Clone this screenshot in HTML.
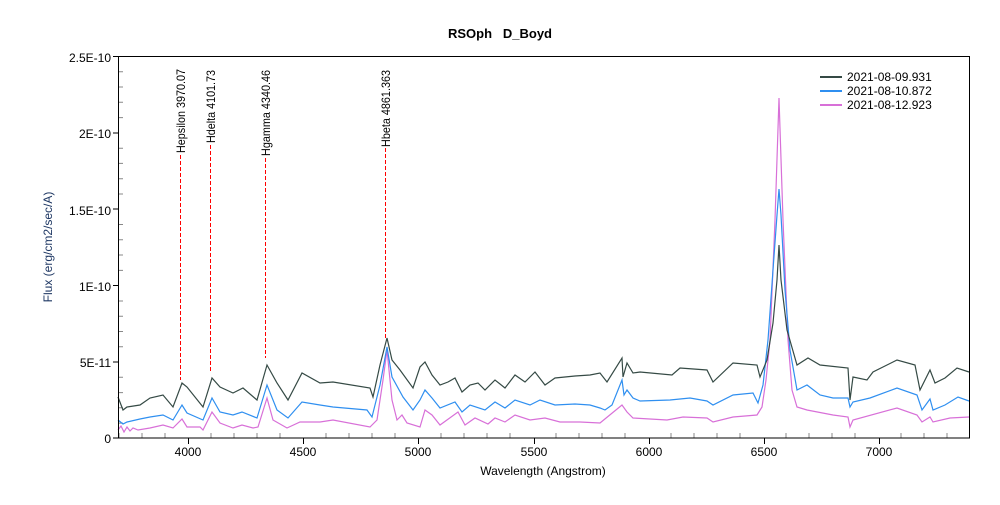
<!DOCTYPE html>
<html><head><meta charset="utf-8"><style>
body{margin:0;background:#fff}
svg text{font-family:"Liberation Sans",sans-serif}
</style></head><body>
<svg width="1000" height="500" xmlns="http://www.w3.org/2000/svg">
<rect width="1000" height="500" fill="#fff"/>
<text x="500" y="38" text-anchor="middle" font-size="13" font-weight="bold" xml:space="preserve">RSOph   D_Boyd</text>
<text x="0" y="0" transform="translate(52,247) rotate(-90)" text-anchor="middle" font-size="12" fill="#1f3864">Flux (erg/cm2/sec/A)</text>
<text x="543" y="475" text-anchor="middle" font-size="12">Wavelength (Angstrom)</text>
<g font-size="12" text-anchor="end">
<text x="111" y="62">2.5E-10</text><text x="111" y="138">2E-10</text><text x="111" y="215">1.5E-10</text>
<text x="111" y="291">1E-10</text><text x="111" y="367">5E-11</text><text x="111" y="443">0</text>
</g>
<g font-size="12" text-anchor="middle">
<text x="188" y="456">4000</text><text x="303" y="456">4500</text><text x="418" y="456">5000</text>
<text x="534" y="456">5500</text><text x="649" y="456">6000</text><text x="764" y="456">6500</text><text x="879" y="456">7000</text>
</g>
<g stroke="#000" stroke-width="1">
<path d="M113,56.5H118M113,133H118M113,209H118M113,285.5H118M113,362H118M113,438H118"/>
<path stroke="#888" d="M118,71.8H123M118,87H123M118,102.3H123M118,117.6H123M118,148.2H123M118,163.4H123M118,178.7H123M118,194H123M118,224.5H123M118,239.8H123M118,255H123M118,270.4H123M118,301H123M118,316.2H123M118,331.5H123M118,346.8H123M118,377.3H123M118,392.6H123M118,407.8H123M118,423.1H123"/>
<path d="M188.5,438V444M303.5,438V444M418.5,438V444M534.5,438V444M649.5,438V444M764.5,438V444M879.5,438V444"/>
<path stroke="#888" d="M119,438V433M142,438V433M165,438V433M211,438V433M234,438V433M257,438V433M280,438V433M326,438V433M349,438V433M372,438V433M395,438V433M441,438V433M464,438V433M487,438V433M510,438V433M556,438V433M579,438V433M602,438V433M625,438V433M671,438V433M694,438V433M717,438V433M740,438V433M786,438V433M809,438V433M832,438V433M855,438V433M901,438V433M924,438V433M947,438V433"/>
</g>
<g stroke="#f00" stroke-width="1" stroke-dasharray="4,2">
<line x1="180.5" y1="155" x2="180.5" y2="380"/>
<line x1="210.5" y1="145" x2="210.5" y2="372"/>
<line x1="265.5" y1="158" x2="265.5" y2="358"/>
<line x1="385.5" y1="148" x2="385.5" y2="340"/>
</g>
<g font-size="12">
<text transform="translate(185,153) rotate(-90)" textLength="84" lengthAdjust="spacingAndGlyphs">Hepsilon 3970.07</text>
<text transform="translate(215,143) rotate(-90)" textLength="73" lengthAdjust="spacingAndGlyphs">Hdelta 4101.73</text>
<text transform="translate(270,156) rotate(-90)" textLength="86" lengthAdjust="spacingAndGlyphs">Hgamma 4340.46</text>
<text transform="translate(390,147) rotate(-90)" textLength="77" lengthAdjust="spacingAndGlyphs">Hbeta 4861.363</text>
</g>
<polyline fill="none" stroke="#d870d8" stroke-width="1.2" points="118,430 121,426 124,432 127,427 130,431 133,428 138,430 150,428 163,425 173,428 182,419 187,427 200,427 203,430 212,412 220,423 233,428 242,425 253,428 258,427 267,398 273,420 287,428 300,422 320,422 333,420 370,427 377,420 383,380 387,350 392,400 397,420 402,415 407,423 420,427 425,410 432,415 440,425 458,412 465,425 475,418 488,424 495,418 505,422 515,415 530,420 545,418 560,422 580,422 600,423 622,405 627,412 633,418 667,420 683,417 707,418 713,422 733,417 757,415 762,407 766,380 770,340 775,220 779,98 783,220 788,340 792,390 797,407 807,410 833,415 848,417 850,427 853,420 897,408 917,415 922,422 930,417 933,422 950,418 969,417"/>
<polyline fill="none" stroke="#2f8ff0" stroke-width="1.2" points="118,420 123,424 127,422 140,419 150,417 163,415 173,420 182,405 187,413 203,420 212,398 220,412 233,415 242,412 257,418 267,385 277,410 288,418 302,402 320,405 333,407 367,410 372,417 380,385 387,347 392,377 403,397 413,410 420,400 425,390 432,398 440,408 455,402 462,412 470,405 485,410 495,402 505,408 515,400 530,405 540,400 555,405 575,404 590,405 600,408 605,410 612,405 622,380 624,395 627,390 633,398 640,401 670,400 690,398 707,401 713,405 733,395 753,393 758,403 763,385 768,340 773,270 777,215 779,189 781,215 785,290 790,350 797,390 807,385 820,395 833,398 848,398 850,407 853,402 870,398 897,388 917,395 922,410 930,399 933,410 945,405 958,397 969,401"/>
<polyline fill="none" stroke="#354a45" stroke-width="1.2" points="118,397 123,410 127,407 140,405 150,398 163,395 173,407 182,383 187,387 203,407 212,378 220,387 233,393 243,388 257,400 267,365 277,383 288,400 302,373 320,383 333,382 370,388 373,397 380,365 387,338 392,360 400,370 413,388 420,367 425,362 432,375 440,385 448,382 455,378 462,392 470,385 478,383 485,390 495,380 505,388 515,375 525,382 535,372 545,385 555,378 575,376 590,375 600,373 607,382 622,358 623,377 627,363 633,373 640,372 672,375 680,368 707,370 713,382 733,363 757,365 760,377 767,360 773,323 777,280 779,245 781,280 787,330 797,365 808,358 820,365 848,368 850,400 853,377 867,380 873,372 897,360 915,365 920,390 930,370 935,383 945,378 957,368 969,372"/>
<rect x="118.5" y="56.5" width="851" height="381.5" fill="none" stroke="#000"/>
<g font-size="12">
<line x1="820" y1="77" x2="842" y2="77" stroke="#354a45" stroke-width="2"/><text x="847" y="81">2021-08-09.931</text>
<line x1="820" y1="91" x2="842" y2="91" stroke="#2f8ff0" stroke-width="2"/><text x="847" y="95">2021-08-10.872</text>
<line x1="820" y1="105" x2="842" y2="105" stroke="#d870d8" stroke-width="2"/><text x="847" y="109">2021-08-12.923</text>
</g>
</svg>
</body></html>
